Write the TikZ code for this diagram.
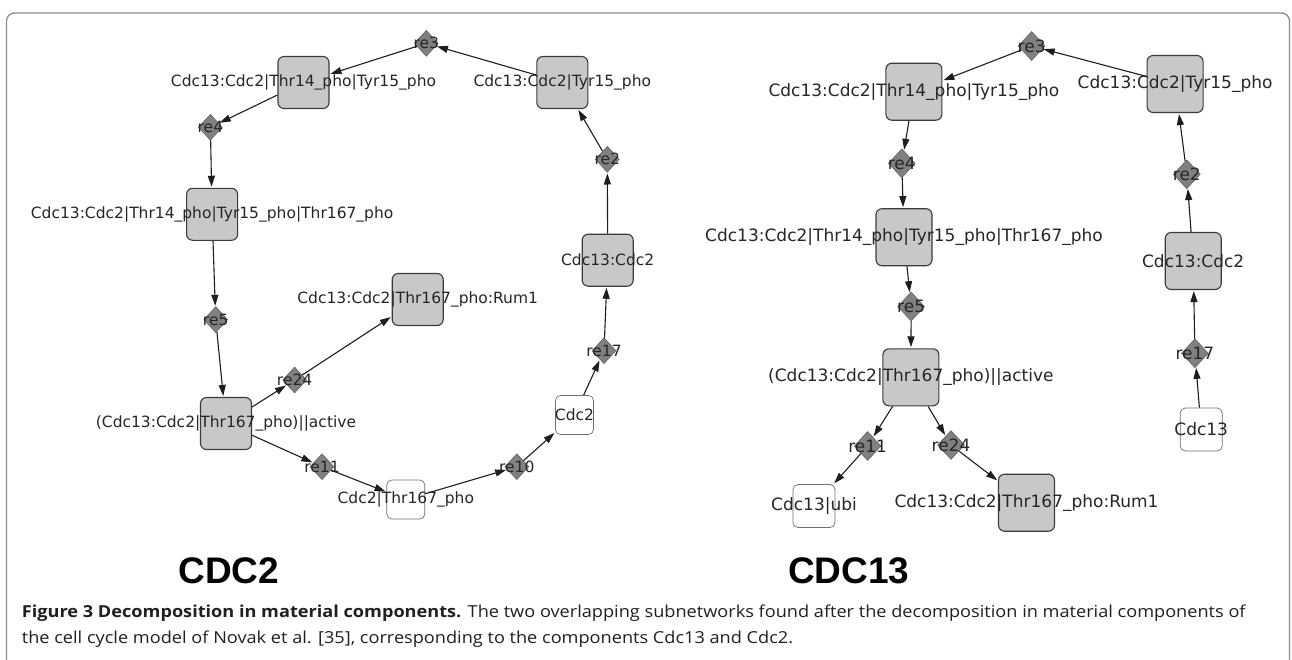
\documentclass[tikz,border=0pt]{standalone}
\usepackage{fontspec}
\usetikzlibrary{shapes.geometric,arrows.meta}
\newfontfamily\lblfont{DejaVu Sans}
\newfontfamily\ttlfont{Liberation Sans}
\newfontfamily\capfont[FakeStretch=1.1]{Open Sans}
\definecolor{boxgray}{HTML}{C8C8CB}
\definecolor{boxline}{HTML}{3C3C3C}
\definecolor{wline}{HTML}{707070}
\definecolor{dfill}{HTML}{808080}
\definecolor{dline}{HTML}{5E5E5E}
\definecolor{txt}{HTML}{262626}
\definecolor{arr}{HTML}{1E1E1E}
\definecolor{framecol}{HTML}{8C8C8C}
\definecolor{captxt}{HTML}{231F20}
\tikzset{
  gbox/.style={draw=boxline, fill=boxgray, rounded corners=6pt, line width=1.1pt,
    minimum width=51pt, minimum height=52pt, inner sep=0pt},
  gboxR/.style={gbox, minimum width=56pt, minimum height=57pt},
  wbox/.style={draw=wline, fill=white, rounded corners=5pt, line width=0.7pt,
    minimum width=38pt, minimum height=39pt, inner sep=0pt},
  wboxR/.style={wbox, minimum width=42pt, minimum height=43pt},
  rxn/.style={diamond, draw=dline, fill=dfill, line width=0.5pt,
    minimum width=24pt, minimum height=26pt, inner sep=0pt},
  rxnR/.style={rxn, minimum width=27pt, minimum height=29pt},
  labL/.style={font=\lblfont\fontsize{15.5}{18}\selectfont, text=txt, inner sep=0pt},
  labR/.style={font=\lblfont\fontsize{17}{20}\selectfont, text=txt, inner sep=0pt},
  flow/.style={-{Triangle[length=11pt,width=7pt]}, line width=1.1pt, draw=arr, shorten >=1pt},
  ttl/.style={font=\ttlfont\bfseries\fontsize{37}{40}\selectfont, text=black, inner sep=0pt, anchor=base},
  captext/.style={font=\capfont\fontsize{16.5}{20}\selectfont, text=captxt, inner sep=0pt, anchor=base west}
}
\begin{document}
\begin{tikzpicture}[x=1pt,y=-1pt]
\useasboundingbox (0,0) rectangle (1292,659);
\clip (0,0) rectangle (1292,659);
\fill[white] (0,0) rectangle (1292,659);
\draw[framecol, line width=1.3pt, rounded corners=8pt] (6.5,700) -- (6.5,13) -- (1289.5,13) -- (1289.5,700);

% ---------- CDC2 panel ----------
\node[gbox, label={[labL]center:Cdc13:Cdc2|Thr14\_pho|Tyr15\_pho}] (A) at (303.5,82.5) {};
\node[gbox, label={[labL]center:Cdc13:Cdc2|Tyr15\_pho}] (B) at (562.3,82.5) {};
\node[gbox, label={[labL]center:Cdc13:Cdc2|Thr14\_pho|Tyr15\_pho|Thr167\_pho}] (C) at (212.1,214.3) {};
\node[gbox, label={[labL]center:Cdc13:Cdc2}] (D) at (607.7,260.2) {};
\node[gbox, label={[labL]center:Cdc13:Cdc2|Thr167\_pho:Rum1}] (E) at (417.7,299.5) {};
\node[gbox, label={[labL]center:(Cdc13:Cdc2|Thr167\_pho)||active}] (F) at (226,423.5) {};
\node[wbox, label={[labL]center:Cdc2|Thr167\_pho}] (G) at (405.8,499.5) {};
\node[wbox, label={[labL]center:Cdc2}] (H) at (574.5,415) {};

\node[rxn, label={[labL]center:re3}] (r3) at (426.3,43.3) {};
\node[rxn, label={[labL]center:re4}] (r4) at (210.4,127.3) {};
\node[rxn, label={[labL]center:re2}] (r2) at (607.3,159.3) {};
\node[rxn, label={[labL]center:re5}] (r5) at (215.7,319.6) {};
\node[rxn, label={[labL]center:re24}] (r24) at (294.6,380) {};
\node[rxn, label={[labL]center:re11}] (r11) at (322,466.7) {};
\node[rxn, label={[labL]center:re10}] (r10) at (516.8,466.7) {};
\node[rxn, label={[labL]center:re17}] (r17) at (604,350.7) {};

\draw[flow] (B) -- (r3);
\draw[flow] (r3) -- (A);
\draw[flow] (A) -- (r4);
\draw[flow] (r4) -- (C);
\draw[flow] (C) -- (r5);
\draw[flow] (r5) -- (F);
\draw[flow] (F) -- (r24);
\draw[flow] (r24) -- (E);
\draw[flow] (F) -- (r11);
\draw[flow] (r11) -- (G);
\draw[flow] (G) -- (r10);
\draw[flow] (r10) -- (H);
\draw[flow] (H) -- (r17);
\draw[flow] (r17) -- (D);
\draw[flow] (D) -- (r2);
\draw[flow] (r2) -- (B);

% ---------- CDC13 panel ----------
\node[gboxR, label={[labR]center:Cdc13:Cdc2|Thr14\_pho|Tyr15\_pho}] (A2) at (913.9,91.7) {};
\node[gboxR, label={[labR]center:Cdc13:Cdc2|Tyr15\_pho}] (B2) at (1175.1,84) {};
\node[gboxR, label={[labR]center:Cdc13:Cdc2|Thr14\_pho|Tyr15\_pho|Thr167\_pho}] (C2) at (904,237.2) {};
\node[gboxR, label={[labR]center:Cdc13:Cdc2}] (D2) at (1193.2,261) {};
\node[gboxR, label={[labR]center:(Cdc13:Cdc2|Thr167\_pho)||active}] (F2) at (910.9,377.3) {};
\node[gboxR, label={[labR]center:Cdc13:Cdc2|Thr167\_pho:Rum1}] (E2) at (1026.5,502.7) {};
\node[wboxR, label={[labR]center:Cdc13|ubi}] (G2) at (814,506) {};
\node[wboxR, label={[labR]center:Cdc13}] (H2) at (1201.2,429.5) {};

\node[rxnR, label={[labR]center:re3}] (s3) at (1031.6,46) {};
\node[rxnR, label={[labR]center:re4}] (s4) at (901.8,163.3) {};
\node[rxnR, label={[labR]center:re2}] (s2) at (1186.8,174.3) {};
\node[rxnR, label={[labR]center:re5}] (s5) at (911.1,306.5) {};
\node[rxnR, label={[labR]center:re17}] (s17) at (1194.9,353.3) {};
\node[rxnR, label={[labR]center:re11}] (s11) at (867.6,446) {};
\node[rxnR, label={[labR]center:re24}] (s24) at (951,445) {};

\draw[flow] (B2) -- (s3);
\draw[flow] (s3) -- (A2);
\draw[flow] (A2) -- (s4);
\draw[flow] (s4) -- (C2);
\draw[flow] (C2) -- (s5);
\draw[flow] (s5) -- (F2);
\draw[flow] (F2) -- (s11);
\draw[flow] (s11) -- (G2);
\draw[flow] (F2) -- (s24);
\draw[flow] (s24) -- (E2);
\draw[flow] (H2) -- (s17);
\draw[flow] (s17) -- (D2);
\draw[flow] (D2) -- (s2);
\draw[flow] (s2) -- (B2);

% ---------- titles and caption ----------
\node[ttl] (t1) at (228.7,583.3) {CDC2};
\node[ttl] (t2) at (848.7,583.3) {CDC13};
\node[captext] (c1) at (21.7,617.5) {{\bfseries Figure 3 Decomposition in material components.} The two overlapping subnetworks found after the decomposition in material components of};
\node[captext] (c2) at (21.7,643.5) {the cell cycle model of Novak et al. [35], corresponding to the components Cdc13 and Cdc2.};
\end{tikzpicture}
\end{document}
